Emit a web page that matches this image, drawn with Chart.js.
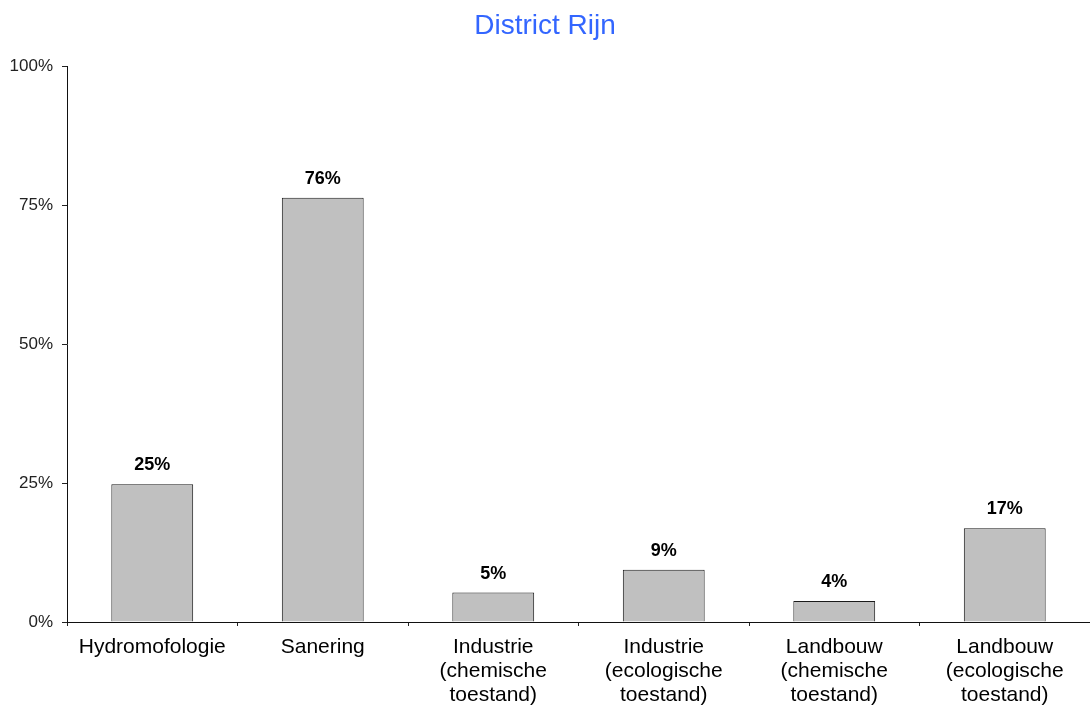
<!DOCTYPE html>
<html>
<head>
<meta charset="utf-8">
<script src="https://cdn.jsdelivr.net/npm/chart.js@4.4.0/dist/chart.umd.min.js"></script>
<style>
html,body{margin:0;padding:0;background:#fff;}
#wrap{width:1090px;height:715px;}
</style>
</head>
<body>
<div id="wrap"><canvas id="c" width="1090" height="715"></canvas></div>
<script>
const categories = [
  ['Hydromofologie'],
  ['Sanering'],
  ['Industrie', '(chemische', 'toestand)'],
  ['Industrie', '(ecologische', 'toestand)'],
  ['Landbouw', '(chemische', 'toestand)'],
  ['Landbouw', '(ecologische', 'toestand)']
];
const values = [24.8, 76.4, 5.3, 9.4, 3.8, 16.9];
const yTicks = [0, 25, 50, 75, 100];
const titleText = 'District Rijn';

const FONT = "'Liberation Sans', Arial, Helvetica, sans-serif";

const valueLabels = {
  id: 'valueLabels',
  afterDatasetsDraw(chart) {
    const ctx = chart.ctx;
    const meta = chart.getDatasetMeta(0);
    ctx.save();
    ctx.font = 'bold 18px ' + FONT;
    ctx.fillStyle = '#000';
    ctx.textAlign = 'center';
    ctx.textBaseline = 'middle';
    meta.data.forEach((bar, i) => {
      ctx.fillText(Math.round(values[i]) + '%', bar.x, bar.y - 19);
    });
    ctx.restore();
  }
};

new Chart(document.getElementById('c'), {
  type: 'bar',
  data: {
    labels: categories,
    datasets: [{
      data: values,
      backgroundColor: '#c0c0c0',
      borderColor: '#1a1a1a',
      borderWidth: 1,
      barPercentage: 0.48,
      categoryPercentage: 1.0
    }]
  },
  options: {
    responsive: false,
    animation: false,
    layout: { padding: { left: 0, right: 0, top: 0, bottom: 0 } },
    plugins: {
      legend: { display: false },
      tooltip: { enabled: false },
      title: {
        display: true,
        text: titleText,
        color: '#3366ff',
        font: { family: FONT, size: 28, weight: 'normal', lineHeight: 1.2 },
        padding: { top: 9, bottom: 24 }
      }
    },
    scales: {
      x: {
        offset: true,
        grid: {
          display: true,
          drawOnChartArea: false,
          drawTicks: true,
          tickLength: 4,
          color: '#222',
          offset: true
        },
        border: { display: true, color: '#111', width: 1 },
        ticks: {
          color: '#000',
          font: { family: FONT, size: 21, lineHeight: 1.15 },
          padding: 9,
          maxRotation: 0,
          minRotation: 0,
          autoSkip: false
        },
        afterFit(scale) { scale.height = 93; }
      },
      y: {
        min: 0,
        max: 100,
        afterBuildTicks(scale) { scale.ticks = yTicks.map(v => ({ value: v })); },
        grid: {
          display: true,
          drawOnChartArea: false,
          drawTicks: true,
          tickLength: 5,
          color: '#222'
        },
        border: { display: true, color: '#111', width: 1 },
        ticks: {
          color: '#222',
          font: { family: FONT, size: 17 },
          padding: 9,
          callback: v => v + '%'
        },
        afterFit(scale) { scale.width = 67; }
      }
    }
  },
  plugins: [valueLabels]
});
</script>
</body>
</html>
